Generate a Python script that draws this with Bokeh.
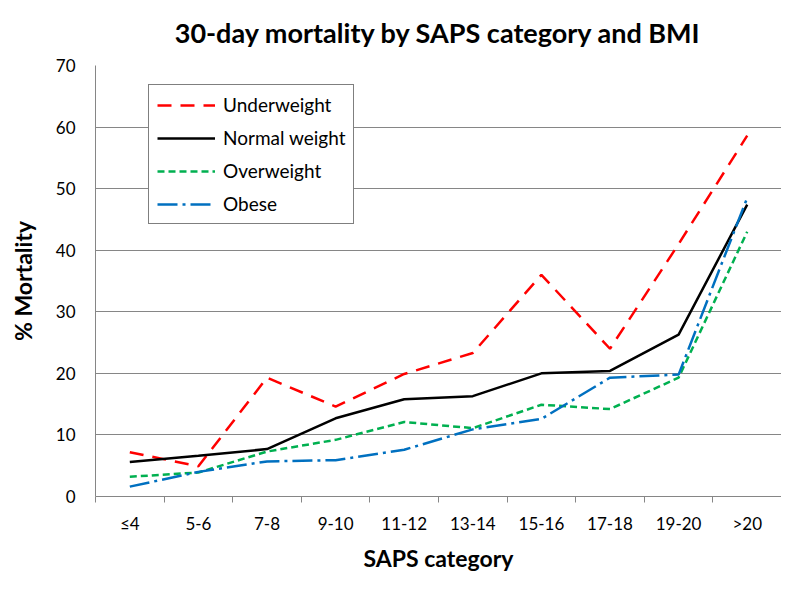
from bokeh.plotting import figure
from bokeh.models import FixedTicker, Legend, LegendItem, Range1d
from bokeh.embed import file_html
from bokeh.resources import INLINE

categories = ["≤4", "5-6", "7-8", "9-10", "11-12", "13-14", "15-16", "17-18", "19-20", ">20"]
underweight = [7.2, 4.9, 19.3, 14.6, 19.9, 23.3, 36.0, 24.0, 41.0, 58.6]
normal_weight = [5.6, 6.6, 7.7, 12.7, 15.8, 16.3, 20.0, 20.4, 26.3, 47.4]
overweight = [3.2, 3.9, 7.3, 9.2, 12.1, 11.1, 14.9, 14.2, 19.3, 43.0]
obese = [1.6, 4.0, 5.7, 5.9, 7.6, 10.9, 12.6, 19.3, 19.8, 48.5]
y_ticks = [0, 10, 20, 30, 40, 50, 60, 70]
title_text = "30-day mortality by SAPS category and BMI"

FONT = "Lato"
xs = [i + 0.5 for i in range(len(categories))]

p = figure(width=781, height=574, output_backend="svg", toolbar_location=None,
           x_range=Range1d(0, len(categories)), y_range=Range1d(0, 70),
           min_border_left=95, min_border_right=0, min_border_bottom=77, min_border_top=64)

p.title.text = title_text
p.title.text_font = FONT
p.title.text_font_size = "27px"
p.title.text_font_style = "bold"
p.title.align = "center"
p.title.vertical_align = "top"
p.title.text_color = "black"
p.title.standoff = 30

p.outline_line_color = None
p.xgrid.grid_line_color = None
p.ygrid.grid_line_color = "#868686"
p.ygrid.grid_line_width = 1

# x axis: labels centred in categories, ticks at boundaries
p.xaxis.ticker = FixedTicker(ticks=xs, minor_ticks=list(range(len(categories) + 1)))
p.xaxis.major_label_overrides = {x: c for x, c in zip(xs, categories)}
p.xaxis.major_tick_out = 0
p.xaxis.major_tick_in = 0
p.xaxis.minor_tick_out = 6
p.xaxis.minor_tick_in = 0
p.xaxis.minor_tick_line_color = "#868686"
p.xaxis.axis_line_color = "#868686"
p.xaxis.major_label_text_font = FONT
p.xaxis.major_label_text_font_size = "17px"
p.xaxis.major_label_text_color = "black"
p.xaxis.major_label_standoff = 10
p.xaxis.axis_label = "SAPS category"
p.xaxis.axis_label_text_font = FONT
p.xaxis.axis_label_text_font_size = "23px"
p.xaxis.axis_label_text_font_style = "bold"
p.xaxis.axis_label_text_color = "black"
p.xaxis.axis_label_standoff = 7

p.yaxis.ticker = FixedTicker(ticks=y_ticks)
p.yaxis.major_tick_out = 0
p.yaxis.major_tick_in = 0
p.yaxis.minor_tick_line_color = None
p.yaxis.axis_line_color = "#868686"
p.yaxis.major_label_text_font = FONT
p.yaxis.major_label_text_font_size = "17px"
p.yaxis.major_label_text_color = "black"
p.yaxis.major_label_standoff = 20
p.yaxis.axis_label = "% Mortality"
p.yaxis.axis_label_text_font = FONT
p.yaxis.axis_label_text_font_size = "23px"
p.yaxis.axis_label_text_font_style = "bold"
p.yaxis.axis_label_text_color = "black"
p.yaxis.axis_label_standoff = 16

r_u = p.line(xs, underweight, line_color="#FF0000", line_width=2.5, line_dash="14 9")
r_n = p.line(xs, normal_weight, line_color="black", line_width=2.5)
r_o = p.line(xs, overweight, line_color="#00B050", line_width=2.5, line_dash="7 4")
r_b = p.line(xs, obese, line_color="#0070C0", line_width=2.5, line_dash="20 5 3 5")

legend = Legend(items=[
    LegendItem(label="Underweight", renderers=[r_u]),
    LegendItem(label="Normal weight", renderers=[r_n]),
    LegendItem(label="Overweight", renderers=[r_o]),
    LegendItem(label="Obese", renderers=[r_b]),
], location=(53, 272), margin=0, padding=8, spacing=10,
    glyph_width=58, glyph_height=20, label_height=20, label_standoff=8,
    label_text_font=FONT, label_text_font_size="19px", label_text_color="black",
    border_line_color="black", border_line_width=1, background_fill_alpha=1)
p.add_layout(legend, "center")

open("out.html", "w").write(file_html(p, INLINE))
